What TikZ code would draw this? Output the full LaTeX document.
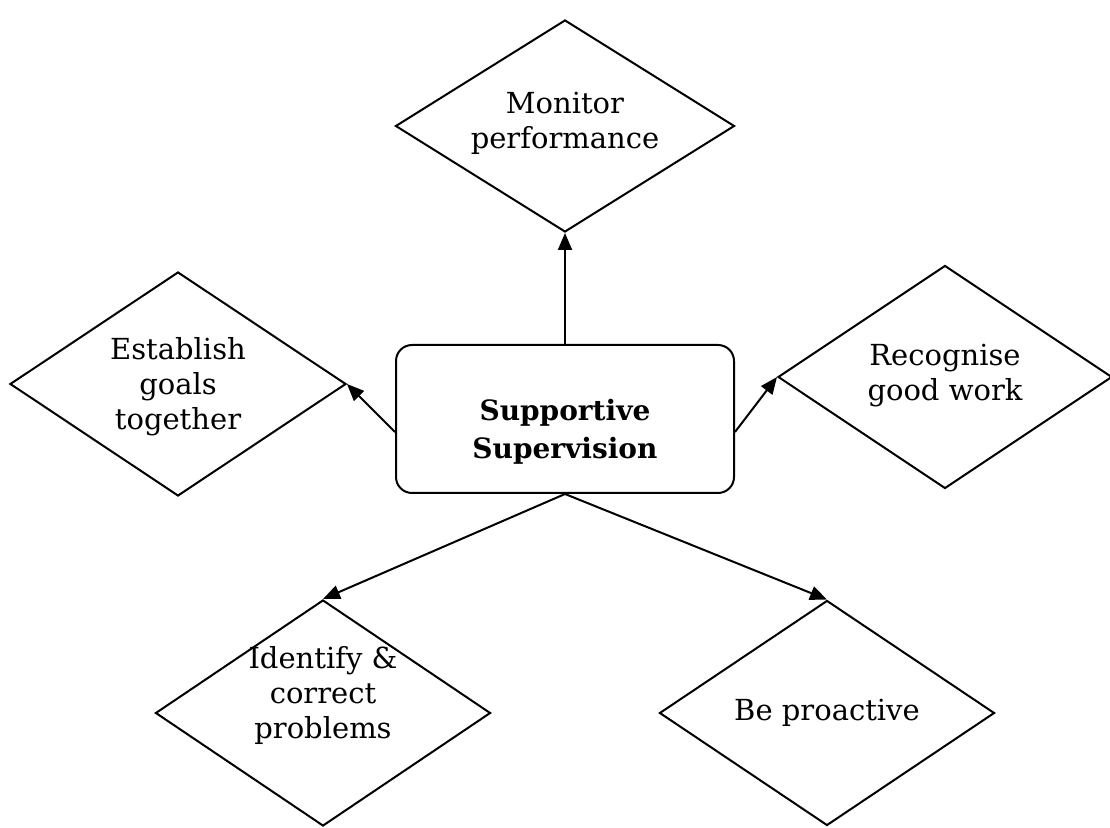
\documentclass[tikz,border=0pt]{standalone}
\usepackage{fontspec}
\setmainfont{DejaVu Serif}
\usetikzlibrary{shapes.geometric,arrows.meta}
\begin{document}
\begin{tikzpicture}[x=1pt,y=1pt,
  dia/.style={draw, line width=2pt, diamond, inner sep=0pt, shape aspect=1.5},
  lbl/.style={align=center, font=\fontsize{29}{35}\selectfont},
  conn/.style={line width=2pt, -{Triangle[length=17pt,width=14pt]}}]
\useasboundingbox (0,0) rectangle (1110,827);
\node[dia, minimum width=339, minimum height=212] (monitor) at (565,701) {};
\node[dia, minimum width=336, minimum height=224] (establish) at (178,443) {};
\node[dia, minimum width=334, minimum height=223] (recognise) at (945,450) {};
\node[dia, minimum width=335, minimum height=226] (identify) at (323,114) {};
\node[dia, minimum width=335, minimum height=225] (proactive) at (827,114) {};
\node[draw, line width=2pt, rounded corners=16pt, minimum width=338, minimum height=148, inner sep=0pt] (central) at (565,408) {};
\node[lbl] (tmonitor) at (565,704) {Monitor\\performance};
\node[lbl] (testablish) at (178,440) {Establish\\goals\\together};
\node[lbl] (trecognise) at (945,451) {Recognise\\good work};
\node[lbl] (tidentify) at (323,132) {Identify \&\\correct\\problems};
\node[lbl] (tproactive) at (827,114) {Be proactive};
\node[lbl, font=\bfseries\fontsize{28}{38}\selectfont] (tcentral) at (565,395) {Supportive\\Supervision};
\draw[conn] (central.north) -- (monitor.south);
\draw[conn] ([yshift=-13pt]central.west) -- (establish.east);
\draw[conn] ([yshift=-13pt]central.east) -- (recognise.west);
\draw[conn] (central.south) -- (identify.north);
\draw[conn] (central.south) -- (proactive.north);
\end{tikzpicture}
\end{document}
